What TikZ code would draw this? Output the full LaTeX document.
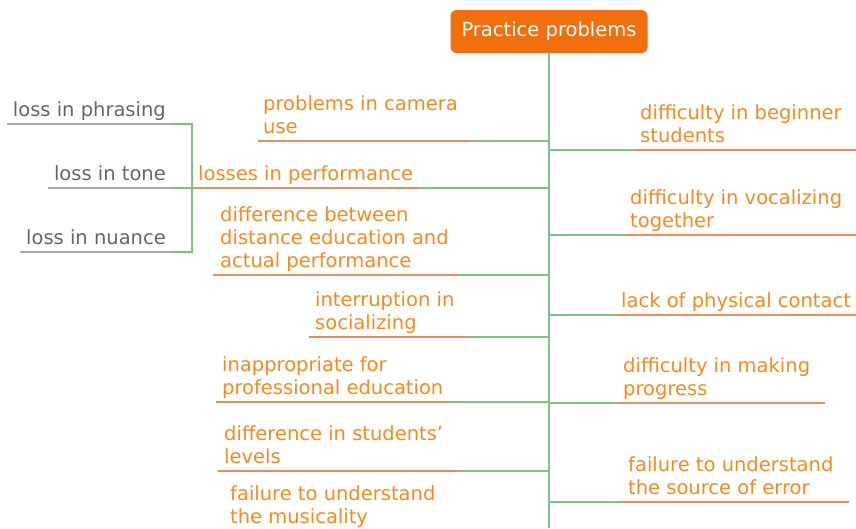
\documentclass[tikz,border=0pt]{standalone}
\usepackage{fontspec}
\setmainfont{DejaVu Sans}
\usepackage{tikz}

\definecolor{topicorange}{HTML}{F26F10}
\definecolor{textorange}{HTML}{F7891F}
\definecolor{lineorange}{HTML}{EE8B5C}
\definecolor{branchgreen}{HTML}{7DC383}
\definecolor{subgray}{HTML}{666666}
\definecolor{linegray}{HTML}{A8A8A8}

\tikzset{
  rootbox/.style={fill=topicorange, text=white, rounded corners=6pt, inner sep=0pt,
    minimum width=197pt, minimum height=43pt, font=\fontsize{19.5}{23}\selectfont},
  topictext/.style={text=textorange, align=left, inner sep=0pt, anchor=base west,
    font=\fontsize{19.5}{23}\selectfont},
  subtext/.style={text=subgray, inner sep=0pt, anchor=base east,
    font=\fontsize{19.5}{23}\selectfont},
  greenline/.style={draw=branchgreen, line width=2pt},
  orangeline/.style={draw=lineorange, line width=1.4pt},
  grayline/.style={draw=linegray, line width=1.4pt}
}

\begin{document}
\begin{tikzpicture}[x=1pt,y=-1pt]
\useasboundingbox (0,0) rectangle (856,528);
\node[rootbox] (root) at (549,31.5) {Practice problems};
\coordinate (bottom) at (549,528);

\node[topictext] (camera) at (263,133) {problems in camera\\use};
\coordinate (camera-a) at (258,141);
\coordinate (camera-b) at (473,141);
\coordinate (camera-c) at (549,141);
\draw[orangeline] (camera-a) -- (camera-b);
\draw[greenline] (camera-b) -- (camera-c);

\node[topictext] (losses) at (198,180) {losses in performance};
\coordinate (losses-a) at (192,188);
\coordinate (losses-b) at (420,188);
\coordinate (losses-c) at (549,188);
\draw[orangeline] (losses-a) -- (losses-b);
\draw[greenline] (losses-b) -- (losses-c);

\node[subtext] (phrasing) at (166,116) {loss in phrasing};
\coordinate (phrasing-a) at (7,124);
\coordinate (phrasing-b) at (172,124);
\coordinate (phrasing-c) at (192,124);
\node[subtext] (tone) at (166,180) {loss in tone};
\coordinate (tone-a) at (48,188);
\coordinate (tone-b) at (172,188);
\node[subtext] (nuance) at (166,244) {loss in nuance};
\coordinate (nuance-a) at (20,252);
\coordinate (nuance-b) at (172,252);
\draw[grayline] (phrasing-a) -- (phrasing-b);
\draw[grayline] (tone-a) -- (tone-b);
\draw[grayline] (nuance-a) -- (nuance-b);
\draw[greenline] (phrasing-b) -- (phrasing-c) |- (nuance-b);
\draw[greenline] (tone-b) -- (losses-a);

\node[topictext] (gap) at (220,267) {difference between\\distance education and\\actual performance};
\coordinate (gap-a) at (213,275);
\coordinate (gap-b) at (460,275);
\coordinate (gap-c) at (549,275);
\draw[orangeline] (gap-a) -- (gap-b);
\draw[greenline] (gap-b) -- (gap-c);

\node[topictext] (social) at (315,329) {interruption in\\socializing};
\coordinate (social-a) at (309,337);
\coordinate (social-b) at (468,337);
\coordinate (social-c) at (549,337);
\draw[orangeline] (social-a) -- (social-b);
\draw[greenline] (social-b) -- (social-c);

\node[topictext] (pro) at (222,394) {inappropriate for\\professional education};
\coordinate (pro-a) at (216,402);
\coordinate (pro-b) at (449,402);
\coordinate (pro-c) at (549,402);
\draw[orangeline] (pro-a) -- (pro-b);
\draw[greenline] (pro-b) -- (pro-c);

\node[topictext] (levels) at (224,463) {difference in students’\\levels};
\coordinate (levels-a) at (218,471);
\coordinate (levels-b) at (457,471);
\coordinate (levels-c) at (549,471);
\draw[orangeline] (levels-a) -- (levels-b);
\draw[greenline] (levels-b) -- (levels-c);

\node[topictext] (musical) at (230,523) {failure to understand\\the musicality};

\node[topictext] (beginner) at (640,142) {difficulty in beginner\\students};
\coordinate (beginner-c) at (549,150);
\coordinate (beginner-b) at (636,150);
\coordinate (beginner-a) at (856,150);
\draw[greenline] (beginner-c) -- (beginner-b);
\draw[orangeline] (beginner-b) -- (beginner-a);

\node[topictext] (vocal) at (630,227) {difficulty in vocalizing\\together};
\coordinate (vocal-c) at (549,235);
\coordinate (vocal-b) at (625,235);
\coordinate (vocal-a) at (856,235);
\draw[greenline] (vocal-c) -- (vocal-b);
\draw[orangeline] (vocal-b) -- (vocal-a);

\node[topictext] (contact) at (621,307) {lack of physical contact};
\coordinate (contact-c) at (549,315);
\coordinate (contact-b) at (617,315);
\coordinate (contact-a) at (856,315);
\draw[greenline] (contact-c) -- (contact-b);
\draw[orangeline] (contact-b) -- (contact-a);

\node[topictext] (progress) at (623,395) {difficulty in making\\progress};
\coordinate (progress-c) at (549,403);
\coordinate (progress-b) at (618,403);
\coordinate (progress-a) at (825,403);
\draw[greenline] (progress-c) -- (progress-b);
\draw[orangeline] (progress-b) -- (progress-a);

\node[topictext] (error) at (628,494) {failure to understand\\the source of error};
\coordinate (error-c) at (549,502);
\coordinate (error-b) at (622,502);
\coordinate (error-a) at (849,502);
\draw[greenline] (error-c) -- (error-b);
\draw[orangeline] (error-b) -- (error-a);

\draw[greenline] (root.south) -- (bottom);
\end{tikzpicture}
\end{document}
